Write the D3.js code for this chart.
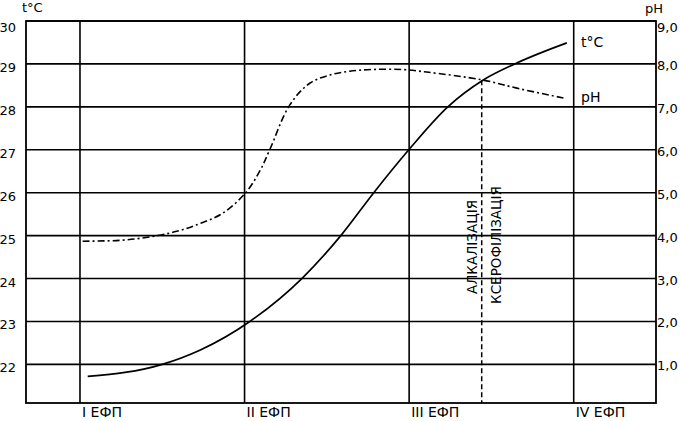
<!DOCTYPE html>
<html>
<head>
<meta charset="utf-8">
<script src="https://cdn.jsdelivr.net/npm/d3@7"></script>
<style>
  html, body { margin: 0; padding: 0; background: #fff; }
  svg { display: block; }
  text { font-family: "DejaVu Sans", Verdana, sans-serif; fill: #000; }
</style>
</head>
<body>
<svg id="chart" width="680" height="421"></svg>
<script>
// ---- data ----
const stages = ["I ЕФП", "II ЕФП", "III ЕФП", "IV ЕФП"];
const stagePos = [1, 2, 3, 4];
const tempTicks = [22, 23, 24, 25, 26, 27, 28, 29, 30];
const phTicks = [1, 2, 3, 4, 5, 6, 7, 8, 9];
const phTickLabels = ["1,0", "2,0", "3,0", "4,0", "5,0", "6,0", "7,0", "8,0", "9,0"];

// temperature curve (stage units, °C)
const tempX = [1.047, 1.50, 1.728, 2.032, 2.348, 2.585, 2.785, 2.998, 3.235, 3.448, 3.642, 3.958];
const tempY = [21.72, 22.00, 22.33, 23.00, 24.00, 25.00, 26.00, 27.00, 28.00, 28.62, 29.00, 29.49];

// pH curve (stage units, pH)
const phX = [1.016, 1.241, 1.424, 1.588, 1.728, 1.867, 2.007, 2.092, 2.153, 2.274, 2.396, 2.517, 2.639, 2.779, 2.961, 3.107, 3.441, 3.672, 3.946];
const phY = [3.87, 3.89, 3.97, 4.10, 4.28, 4.52, 5.00, 5.50, 6.00, 7.04, 7.55, 7.74, 7.83, 7.87, 7.87, 7.81, 7.63, 7.42, 7.20];

// process boundary (stage units)
const boundaryX = 3.441;
const boundaryTemp = 28.62;
const leftLabel = "АЛКАЛІЗАЦІЯ";
const rightLabel = "КСЕРОФІЛІЗАЦІЯ";

// ---- scales ----
const pL = 26, pR = 656, pT = 21, pB = 403;
const x = d3.scaleLinear().domain([0.672, 4.5]).range([pL, pR]);
const yT = d3.scaleLinear().domain([21.1, 30]).range([pB, pT]);
const yP = d3.scaleLinear().domain([0.1, 9]).range([pB, pT]);

const svg = d3.select("#chart");

// grid: horizontal
svg.append("g").selectAll("line").data(tempTicks).join("line")
  .attr("x1", pL).attr("x2", pR)
  .attr("y1", d => yT(d)).attr("y2", d => yT(d))
  .attr("stroke", "#000").attr("stroke-width", 1.6);
// grid: vertical
svg.append("g").selectAll("line").data(stagePos).join("line")
  .attr("x1", d => x(d)).attr("x2", d => x(d))
  .attr("y1", pT).attr("y2", pB)
  .attr("stroke", "#000").attr("stroke-width", 1.6);
// frame
svg.append("rect").attr("x", pL).attr("y", pT)
  .attr("width", pR - pL).attr("height", pB - pT)
  .attr("fill", "none").attr("stroke", "#000").attr("stroke-width", 1.8);

// left axis labels
svg.append("g").selectAll("text").data(tempTicks).join("text")
  .attr("x", 16)
  .attr("y", d => d === 30 ? yT(d) + 11 : yT(d) + 8)
  .attr("text-anchor", "end")
  .attr("font-size", 13)
  .text(d => d);
// right axis labels
svg.append("g").selectAll("text").data(phTicks).join("text")
  .attr("x", 657)
  .attr("y", d => d === 9 ? yP(d) + 11 : yP(d) + 6)
  .attr("font-size", 13)
  .text((d, i) => phTickLabels[i]);
// axis titles
svg.append("text").attr("x", 22).attr("y", 12).attr("font-size", 13).text("t°C");
svg.append("text").attr("x", 645).attr("y", 13).attr("font-size", 13).text("pH");

// bottom stage labels
svg.append("g").selectAll("text").data(stages).join("text")
  .attr("x", (d, i) => x(stagePos[i]) + 2)
  .attr("y", 417)
  .attr("font-size", 14)
  .text(d => d);

// boundary dashed line
svg.append("line")
  .attr("x1", x(boundaryX)).attr("x2", x(boundaryX))
  .attr("y1", yT(boundaryTemp)).attr("y2", pB)
  .attr("stroke", "#000").attr("stroke-width", 1.5)
  .attr("stroke-dasharray", "5,3");

// rotated process labels
svg.append("text")
  .attr("transform", `translate(${x(boundaryX) - 5},${247}) rotate(-90)`)
  .attr("text-anchor", "middle").attr("font-size", 13.5)
  .text(leftLabel);
svg.append("text")
  .attr("transform", `translate(${x(boundaryX) + 19},${245}) rotate(-90)`)
  .attr("text-anchor", "middle").attr("font-size", 13.5)
  .text(rightLabel);

// curves
const tempData = tempX.map((v, i) => [v, tempY[i]]);
const phData = phX.map((v, i) => [v, phY[i]]);
const tLine = d3.line().x(d => x(d[0])).y(d => yT(d[1])).curve(d3.curveMonotoneX);
const pLine = d3.line().x(d => x(d[0])).y(d => yP(d[1])).curve(d3.curveCatmullRom.alpha(0.5));

svg.append("path").datum(tempData).attr("d", tLine)
  .attr("fill", "none").attr("stroke", "#000").attr("stroke-width", 1.7);
svg.append("path").datum(phData).attr("d", pLine)
  .attr("fill", "none").attr("stroke", "#000").attr("stroke-width", 1.6)
  .attr("stroke-dasharray", "7,3,2,3");

// series labels
svg.append("text").attr("x", 581).attr("y", 47).attr("font-size", 14).text("t°C");
svg.append("text").attr("x", 581).attr("y", 102).attr("font-size", 14).text("pH");
</script>
</body>
</html>
